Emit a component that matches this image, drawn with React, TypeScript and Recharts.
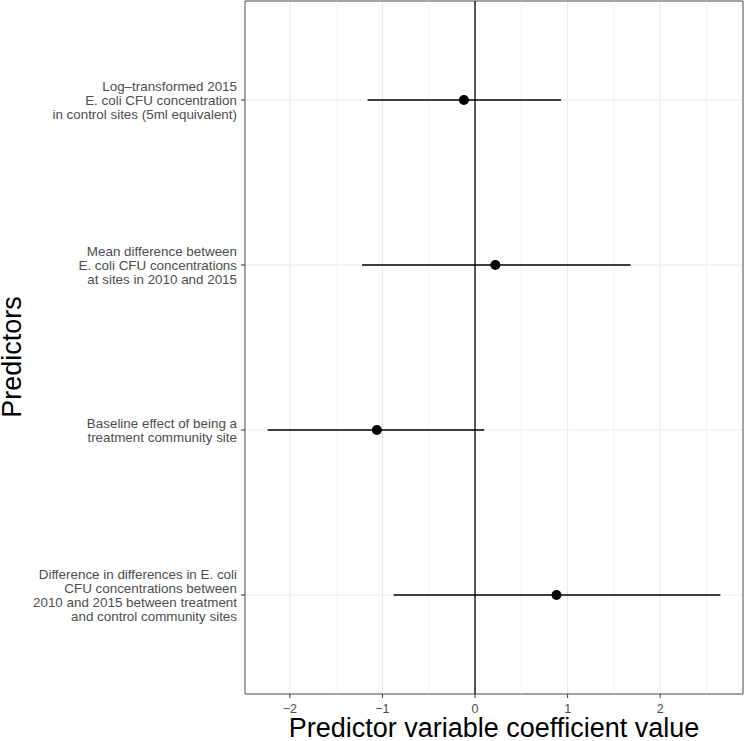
import React from 'react';
import {
  ScatterChart,
  Scatter,
  XAxis,
  YAxis,
  CartesianGrid,
  ErrorBar,
  ReferenceLine,
  ReferenceArea,
} from 'recharts';

const predictors = [
  ['Log–transformed 2015', 'E. coli CFU concentration', 'in control sites (5ml equivalent)'],
  ['Mean difference between', 'E. coli CFU concentrations', 'at sites in 2010 and 2015'],
  ['Baseline effect of being a', 'treatment community site'],
  [
    'Difference in differences in E. coli',
    'CFU concentrations between',
    '2010 and 2015 between treatment',
    'and control community sites',
  ],
];
const estimates = [-0.12, 0.22, -1.06, 0.88];
const lower = [-1.16, -1.22, -2.24, -0.88];
const upper = [0.93, 1.68, 0.1, 2.65];

const xTicks = [-2, -1, 0, 1, 2];
const xMinor = [-1.5, -0.5, 0.5, 1.5, 2.5];

const n = predictors.length;
const data = estimates.map((est, i) => ({
  x: est,
  y: n - i,
  err: [est - lower[i], upper[i] - est],
}));

// ggplot-style 5% expansion of the data range
const lo = Math.min(...lower);
const hi = Math.max(...upper);
const pad = (hi - lo) * 0.05;
const xDomain = [lo - pad, hi + pad];
const yDomain = [0.4, n + 0.6];

const FONT = '"Liberation Sans", Arial, Helvetica, sans-serif';

const YTick = (props: any) => {
  const { x, y, payload } = props;
  const lines = predictors[n - payload.value] || [];
  const first = -((lines.length - 1) * 14) / 2;
  return (
    <text x={x} y={y} textAnchor="end" fontSize={13.4} fill="#4d4d4d" fontFamily={FONT}>
      {lines.map((l, i) => (
        <tspan key={i} x={x} dy={i === 0 ? first + 4.8 : 14}>
          {l}
        </tspan>
      ))}
    </text>
  );
};

const fmt = (v: number) => (v < 0 ? '\u2212' + Math.abs(v) : String(v));

const Dot = (props: any) => <circle cx={props.cx} cy={props.cy} r={5} fill="#000" />;

export default function App() {
  return (
    <div style={{ position: 'absolute', left: 0, top: 0, background: '#fff' }}>
      <ScatterChart width={744} height={741} margin={{ top: 1, right: 1, bottom: 0, left: 0 }}>
        <CartesianGrid stroke="#ebebeb" strokeWidth={1.1} />
        {xMinor.map((v) => (
          <ReferenceLine key={v} x={v} stroke="#ebebeb" strokeWidth={0.6} ifOverflow="hidden" />
        ))}
        <XAxis
          type="number"
          dataKey="x"
          domain={xDomain}
          ticks={xTicks}
          tickFormatter={fmt}
          allowDataOverflow
          height={47}
          axisLine={false}
          tickLine={{ stroke: '#333' }}
          tickSize={4}
          tickMargin={6}
          tick={{ fontSize: 12.5, fill: '#4d4d4d', fontFamily: FONT }}
          label={{
            value: 'Predictor variable coefficient value',
            position: 'insideBottom',
            offset: 4,
            fontSize: 27,
            fill: '#000',
            fontFamily: FONT,
          }}
        />
        <YAxis
          type="number"
          dataKey="y"
          domain={yDomain}
          ticks={[1, 2, 3, 4]}
          allowDataOverflow
          width={245}
          axisLine={false}
          tickLine={{ stroke: '#333' }}
          tickSize={4}
          tickMargin={4}
          tick={<YTick />}
          label={{
            content: () => (
              <text
                x={21}
                y={357}
                transform="rotate(-90, 21, 357)"
                textAnchor="middle"
                fontSize={27}
                fill="#000"
                fontFamily={FONT}
              >
                Predictors
              </text>
            ),
          }}
        />
        <ReferenceLine x={0} stroke="#000" strokeWidth={1.3} />
        <Scatter data={data} shape={<Dot />} isAnimationActive={false}>
          <ErrorBar dataKey="err" direction="x" width={0} stroke="#000" strokeWidth={1.3} />
        </Scatter>
        <ReferenceArea
          x1={xDomain[0]}
          x2={xDomain[1]}
          y1={yDomain[0]}
          y2={yDomain[1]}
          fill="none"
          stroke="#555"
          strokeWidth={1}
          ifOverflow="visible"
        />
      </ScatterChart>
    </div>
  );
}
